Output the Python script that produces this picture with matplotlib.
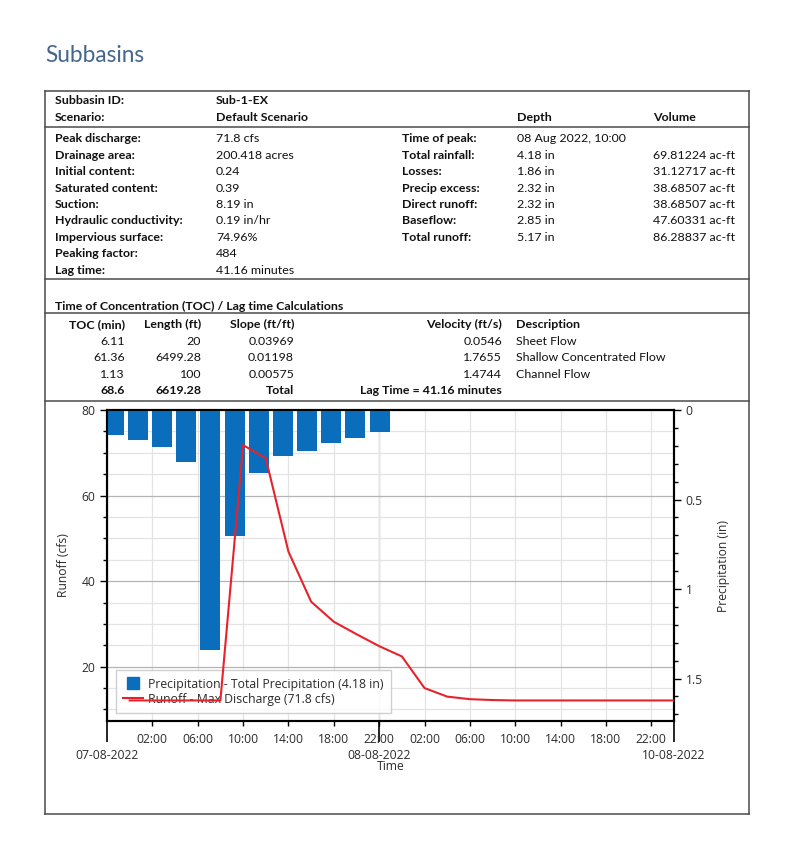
import matplotlib
matplotlib.use('Agg')
import matplotlib.pyplot as plt
from matplotlib.lines import Line2D
from matplotlib.ticker import MultipleLocator, FuncFormatter

# ---- report data ----
header_labels = ['Subbasin ID:', 'Scenario:']
header_values = ['Sub-1-EX', 'Default Scenario']

summary_labels = ['Peak discharge:', 'Drainage area:', 'Initial content:', 'Saturated content:',
                  'Suction:', 'Hydraulic conductivity:', 'Impervious surface:', 'Peaking factor:',
                  'Lag time:']
summary_values = ['71.8 cfs', '200.418 acres', '0.24', '0.39', '8.19 in', '0.19 in/hr',
                  '74.96%', '484', '41.16 minutes']

result_labels = ['Time of peak:', 'Total rainfall:', 'Losses:', 'Precip excess:',
                 'Direct runoff:', 'Baseflow:', 'Total runoff:']
result_depth = ['08 Aug 2022, 10:00', '4.18 in', '1.86 in', '2.32 in', '2.32 in', '2.85 in', '5.17 in']
result_volume = ['', '69.81224 ac-ft', '31.12717 ac-ft', '38.68507 ac-ft', '38.68507 ac-ft',
                 '47.60331 ac-ft', '86.28837 ac-ft']

toc_min = ['6.11', '61.36', '1.13']
toc_length = ['20', '6499.28', '100']
toc_slope = ['0.03969', '0.01198', '0.00575']
toc_velocity = ['0.0546', '1.7655', '1.4744']
toc_desc = ['Sheet Flow', 'Shallow Concentrated Flow', 'Channel Flow']
toc_total = ['68.6', '6619.28', 'Total', 'Lag Time = 41.16 minutes']

# ---- chart data (hours from 07-08-2022 00:00 on the axis) ----
precip_time = [-1.4, 0.73, 2.85, 5.0, 7.1, 9.25, 11.4, 13.5, 15.65, 17.75, 19.9, 22.05]
precip_in = [0.140, 0.168, 0.205, 0.289, 1.341, 0.702, 0.354, 0.257, 0.227, 0.186, 0.158, 0.121]

runoff_time = [0, 2, 4, 6, 8, 10, 12, 14, 16, 18, 20, 22, 24, 26, 28, 30, 32, 34, 36,
               38, 40, 42, 44, 46, 48]
runoff_cfs = [12.1, 12.1, 12.1, 12.1, 12.1, 71.8, 68.7, 46.9, 35.2, 30.5, 27.6, 24.8,
              22.4, 15.0, 13.0, 12.4, 12.2, 12.1, 12.1, 12.1, 12.1, 12.1, 12.1, 12.1, 12.1]

date_ticks = [-2, 22, 48]
date_labels = ['07-08-2022', '08-08-2022', '10-08-2022']
hour_ticks = list(range(2, 48, 4))

W, H = 805, 860
fig = plt.figure(figsize=(W / 100, H / 100), dpi=100)


def fx(px):
    return px / W


def fy(py):
    return 1 - py / H


def put(px, py, s, bold=False, ha='left', **kw):
    fig.text(fx(px), fy(py), s, ha=ha, va='center', family='Lato', fontsize=8.9,
             fontweight='bold' if bold else 'normal', color='#111111', **kw)


def hline(py):
    fig.add_artist(Line2D([fx(45), fx(749)], [fy(py), fy(py)], color='#4a4a4a', lw=1.1))


# title
fig.text(fx(45), fy(56), 'Subbasins', family='Lato', fontsize=16.3,
         color='#44678b', va='center')

# outer box and dividers
for xs, ys in [([45, 749], [91, 91]), ([45, 749], [814, 814]), ([45, 45], [91, 814]), ([749, 749], [91, 814])]:
    fig.add_artist(Line2D([fx(v) for v in xs], [fy(v) for v in ys], color='#4a4a4a', lw=1.1))
for py in [127, 279, 313, 401]:
    hline(py)

# header
for i, (lab, val) in enumerate(zip(header_labels, header_values)):
    put(55, 101 + 16.5 * i, lab, bold=True)
    put(216, 101 + 16.5 * i, val, bold=True)
put(517, 117.5, 'Depth', bold=True)
put(653, 117.5, 'Volume', bold=True)

row_y = [139 + 16.4 * i for i in range(9)]
for y, lab, val in zip(row_y, summary_labels, summary_values):
    put(55, y, lab, bold=True)
    put(216, y, val)
for y, lab, d, v in zip(row_y, result_labels, result_depth, result_volume):
    put(402, y, lab, bold=True)
    put(517, y, d)
    put(653, y, v)

# TOC section
put(55, 306, 'Time of Concentration (TOC) / Lag time Calculations', bold=True)
toc_y = [324.5 + 16.6 * i for i in range(5)]
put(125, toc_y[0], 'TOC (min)', bold=True, ha='right')
put(201, toc_y[0], 'Length (ft)', bold=True, ha='right')
put(294, toc_y[0], 'Slope (ft/ft)', bold=True, ha='right')
put(502, toc_y[0], 'Velocity (ft/s)', bold=True, ha='right')
put(516, toc_y[0], 'Description', bold=True)
for i in range(3):
    y = toc_y[i + 1]
    put(125, y, toc_min[i], ha='right')
    put(201, y, toc_length[i], ha='right')
    put(294, y, toc_slope[i], ha='right')
    put(502, y, toc_velocity[i], ha='right')
    put(516, y, toc_desc[i])
for xr, s in zip([125, 201, 294, 502], toc_total):
    put(xr, toc_y[4], s, bold=True, ha='right')

# ---- chart ----
cfont = 'Open Sans'
tcol = '#2b2b2b'
ax = fig.add_axes([fx(107), fy(721), (674 - 107) / W, (721 - 410) / H])
ax2 = ax.twinx()

ax.xaxis.remove_overlapping_locs = False
ax.set_xticks(date_ticks)
ax.set_xticklabels(date_labels)
ax.set_xticks(hour_ticks, minor=True)
ax.set_xticklabels(['%02d:00' % (h % 24) for h in hour_ticks], minor=True)
ax.tick_params(axis='x', which='major', length=15, width=1.2, pad=5, labelsize=8.7, labelcolor=tcol)
ax.tick_params(axis='x', which='minor', length=3.5, width=1.0, pad=5, labelsize=8.7, labelcolor=tcol)

ax.set_yticks([20, 40, 60, 80])
ax.yaxis.set_minor_locator(MultipleLocator(5))
ax.tick_params(axis='y', which='major', length=5, width=1.0, labelsize=8.7, labelcolor=tcol)
ax.tick_params(axis='y', which='minor', length=3, width=1.0)

ax2.set_yticks([0, 0.5, 1, 1.5])
ax2.yaxis.set_major_formatter(FuncFormatter(lambda v, p: '%g' % v))
ax2.yaxis.set_minor_locator(MultipleLocator(0.1))
ax2.tick_params(axis='y', which='major', length=5, width=1.0, labelsize=8.7, labelcolor=tcol)
ax2.tick_params(axis='y', which='minor', length=3, width=1.0)

for lab in ax.get_xticklabels(which='both') + ax.get_yticklabels() + ax2.get_yticklabels():
    lab.set_family(cfont)

ax.grid(which='major', axis='y', color='#b4b4b4', lw=0.9)
ax.grid(which='minor', axis='y', color='#e4e4e4', lw=0.9)
ax.grid(which='minor', axis='x', color='#e4e4e4', lw=0.9)
ax.grid(which='major', axis='x', color='#a8a8a8', lw=0.9)

for a in (ax, ax2):
    for sp in a.spines.values():
        sp.set_linewidth(1.5)
        sp.set_color('black')

bar_col = '#0a6ebd'
ax2.bar(precip_time, precip_in, width=1.76, color=bar_col, zorder=2)
ax2.plot(runoff_time, runoff_cfs, color='#e8222c', lw=1.5, zorder=4, transform=ax.transData)
ax2.set_ylim(1.737, 0)
ax.set_xlim(-2, 48)
ax.set_ylim(7.3, 80)

ax.set_ylabel('Runoff (cfs)', family=cfont, fontsize=8.7, color=tcol, labelpad=8)
ax2.set_ylabel('Precipitation (in)', family=cfont, fontsize=8.7, color=tcol, labelpad=10)
ax.set_xlabel('Time', family=cfont, fontsize=8.7, color=tcol, labelpad=-1)

handles = [Line2D([], [], marker='s', ms=9, color=bar_col, ls='none'),
           Line2D([], [], color='#e8222c', lw=1.5)]
leg = ax2.legend(handles, ['Precipitation - Total Precipitation (4.18 in)',
                           'Runoff - Max Discharge (71.8 cfs)'],
                 loc='lower left', bbox_to_anchor=(0.016, 0.026), borderaxespad=0,
                 prop={'family': cfont, 'size': 8.8}, fancybox=False, framealpha=0.85,
                 edgecolor='#c8c8c8', handlelength=1.6, handletextpad=0.4, labelspacing=0.15,
                 borderpad=0.6)
for t in leg.get_texts():
    t.set_color(tcol)
leg.set_zorder(3)

fig.savefig('out.png', dpi=100)
